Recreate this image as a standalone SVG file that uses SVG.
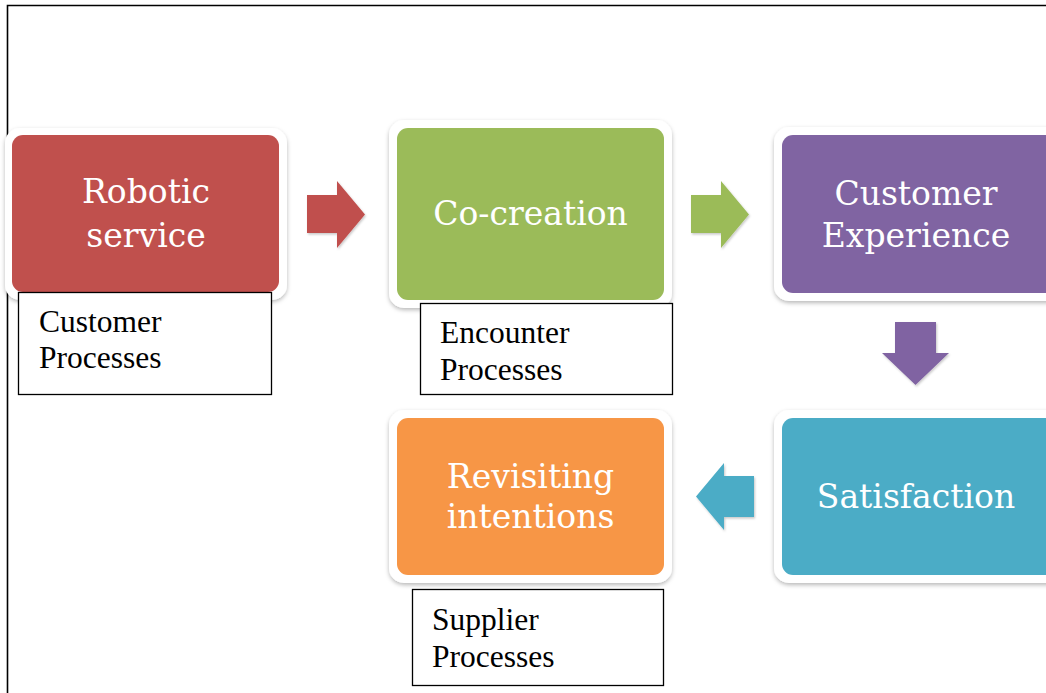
<svg xmlns="http://www.w3.org/2000/svg" width="1046" height="693" viewBox="0 0 1046 693">
  <style>
    .frame { fill: none; stroke: #000; stroke-width: 1.6; }
    .card { fill: #fff; filter: url(#shadow); }
    .title { font-family: "DejaVu Serif", "Liberation Serif", serif; font-size: 33px; fill: #fff; text-anchor: middle; }
    .note { fill: #fff; stroke: #000; stroke-width: 1.3; }
    .noteText { font-family: "Liberation Serif", "Times New Roman", serif; font-size: 31.5px; fill: #000; }
  </style>
  <defs>
    <filter id="shadow" x="-10%" y="-10%" width="120%" height="125%">
      <feDropShadow dx="0" dy="2" stdDeviation="2.2" flood-color="#000" flood-opacity="0.28"/>
    </filter>
    <filter id="arrowShadow" x="-20%" y="-20%" width="140%" height="140%">
      <feDropShadow dx="1" dy="1.5" stdDeviation="1.2" flood-color="#000" flood-opacity="0.22"/>
    </filter>
  </defs>

  <rect width="1046" height="693" fill="#fff"/>

  <!-- page frame -->
  <path class="frame" d="M7.5,693 V5.5 H1046"/>

  <!-- connectors (block arrows) -->
  <g id="connectors" filter="url(#arrowShadow)">
    <path fill="#C0504D" d="M307,195 H337 V181 L365,214.5 L337,248 V233 H307 Z"/>
    <path fill="#9BBB59" d="M691,195 H721 V181 L749,214.5 L721,248 V233 H691 Z"/>
    <path fill="#8064A2" d="M895,322 H936 V353 H949 L915.5,385 L882,353 H895 Z"/>
    <path fill="#4BACC6" d="M754,476 V517 H724 V530 L696,496.5 L724,463 V476 Z"/>
  </g>

  <g id="robotic-service">
    <rect class="card" x="5" y="128" width="282" height="172" rx="15"/>
    <rect x="12" y="135" width="267" height="157" rx="11" fill="#C0504D"/>
    <text class="title" x="146" y="203">Robotic</text>
    <text class="title" x="146" y="247">service</text>
  </g>

  <g id="co-creation">
    <rect class="card" x="389" y="120" width="283" height="188" rx="15"/>
    <rect x="397" y="128" width="267" height="172" rx="11" fill="#9BBB59"/>
    <text class="title" x="530.5" y="225">Co-creation</text>
  </g>

  <g id="customer-experience">
    <rect class="card" x="774" y="127" width="290" height="174" rx="15"/>
    <rect x="782" y="135" width="280" height="158" rx="11" fill="#8064A2"/>
    <text class="title" x="916" y="205">Customer</text>
    <text class="title" x="916" y="247">Experience</text>
  </g>

  <g id="satisfaction">
    <rect class="card" x="774" y="410" width="290" height="173" rx="15"/>
    <rect x="782" y="418" width="280" height="157" rx="11" fill="#4BACC6"/>
    <text class="title" x="916" y="508">Satisfaction</text>
  </g>

  <g id="revisiting-intentions">
    <rect class="card" x="389" y="410" width="283" height="173" rx="15"/>
    <rect x="397" y="418" width="267" height="157" rx="11" fill="#F79646"/>
    <text class="title" x="530.5" y="488">Revisiting</text>
    <text class="title" x="530.5" y="528">intentions</text>
  </g>

  <g id="customer-processes">
    <rect class="note" x="18.5" y="292.5" width="253" height="102"/>
    <text class="noteText" x="39" y="332">Customer</text>
    <text class="noteText" x="39" y="368">Processes</text>
  </g>

  <g id="encounter-processes">
    <rect class="note" x="420.5" y="303.5" width="252" height="91"/>
    <text class="noteText" x="440" y="343">Encounter</text>
    <text class="noteText" x="440" y="380">Processes</text>
  </g>

  <g id="supplier-processes">
    <rect class="note" x="412.5" y="589.5" width="251" height="96"/>
    <text class="noteText" x="432" y="630">Supplier</text>
    <text class="noteText" x="432" y="667">Processes</text>
  </g>
</svg>
